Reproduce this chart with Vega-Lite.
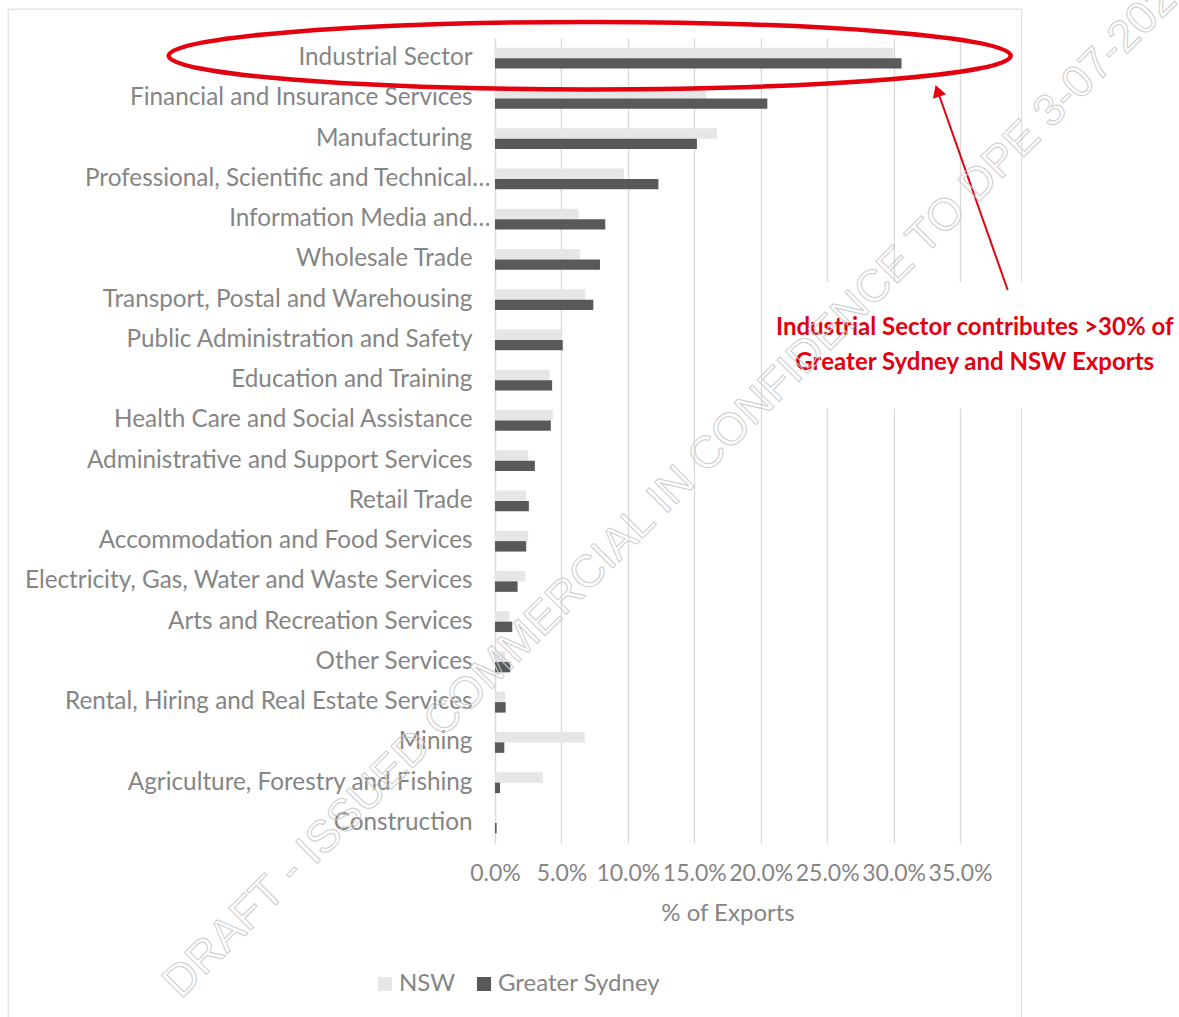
{
  "$schema": "https://vega.github.io/schema/vega-lite/v6.json",
  "width": 465,
  "height": 805,
  "autosize": {"type": "none"},
  "padding": {"left": 495, "top": 38, "right": 219, "bottom": 174},
  "background": "white",
  "config": {
    "view": {"stroke": null},
    "font": "Lato",
    "axisX": {
      "format": ".1%", "labelFont": "Lato", "labelFontSize": 23, "labelColor": "#858585",
      "labelPadding": 19, "labelOverlap": false, "labelFlush": false,
      "ticks": false, "domain": false, "grid": true, "gridColor": "#d9d9d9", "gridWidth": 1.3,
      "titleFont": "Lato", "titleFontSize": 24, "titleFontWeight": "normal",
      "titleColor": "#858585", "titlePadding": 16
    }
  },
  "resolve": {"scale": {"y": "independent"}},
  "layer": [
    {
      "data": {"values": [
        {"sector": "Industrial Sector", "region": "NSW", "value": 0.300},
        {"sector": "Industrial Sector", "region": "Greater Sydney", "value": 0.306},
        {"sector": "Financial and Insurance Services", "region": "NSW", "value": 0.159},
        {"sector": "Financial and Insurance Services", "region": "Greater Sydney", "value": 0.205},
        {"sector": "Manufacturing", "region": "NSW", "value": 0.167},
        {"sector": "Manufacturing", "region": "Greater Sydney", "value": 0.152},
        {"sector": "Professional, Scientific and Technical Services", "region": "NSW", "value": 0.097},
        {"sector": "Professional, Scientific and Technical Services", "region": "Greater Sydney", "value": 0.123},
        {"sector": "Information Media and Telecommunications", "region": "NSW", "value": 0.063},
        {"sector": "Information Media and Telecommunications", "region": "Greater Sydney", "value": 0.083},
        {"sector": "Wholesale Trade", "region": "NSW", "value": 0.064},
        {"sector": "Wholesale Trade", "region": "Greater Sydney", "value": 0.079},
        {"sector": "Transport, Postal and Warehousing", "region": "NSW", "value": 0.068},
        {"sector": "Transport, Postal and Warehousing", "region": "Greater Sydney", "value": 0.074},
        {"sector": "Public Administration and Safety", "region": "NSW", "value": 0.050},
        {"sector": "Public Administration and Safety", "region": "Greater Sydney", "value": 0.051},
        {"sector": "Education and Training", "region": "NSW", "value": 0.041},
        {"sector": "Education and Training", "region": "Greater Sydney", "value": 0.043},
        {"sector": "Health Care and Social Assistance", "region": "NSW", "value": 0.0435},
        {"sector": "Health Care and Social Assistance", "region": "Greater Sydney", "value": 0.042},
        {"sector": "Administrative and Support Services", "region": "NSW", "value": 0.025},
        {"sector": "Administrative and Support Services", "region": "Greater Sydney", "value": 0.030},
        {"sector": "Retail Trade", "region": "NSW", "value": 0.0235},
        {"sector": "Retail Trade", "region": "Greater Sydney", "value": 0.0255},
        {"sector": "Accommodation and Food Services", "region": "NSW", "value": 0.025},
        {"sector": "Accommodation and Food Services", "region": "Greater Sydney", "value": 0.0235},
        {"sector": "Electricity, Gas, Water and Waste Services", "region": "NSW", "value": 0.0225},
        {"sector": "Electricity, Gas, Water and Waste Services", "region": "Greater Sydney", "value": 0.017},
        {"sector": "Arts and Recreation Services", "region": "NSW", "value": 0.0105},
        {"sector": "Arts and Recreation Services", "region": "Greater Sydney", "value": 0.013},
        {"sector": "Other Services", "region": "NSW", "value": 0.0075},
        {"sector": "Other Services", "region": "Greater Sydney", "value": 0.0115},
        {"sector": "Rental, Hiring and Real Estate Services", "region": "NSW", "value": 0.0075},
        {"sector": "Rental, Hiring and Real Estate Services", "region": "Greater Sydney", "value": 0.008},
        {"sector": "Mining", "region": "NSW", "value": 0.0675},
        {"sector": "Mining", "region": "Greater Sydney", "value": 0.007},
        {"sector": "Agriculture, Forestry and Fishing", "region": "NSW", "value": 0.036},
        {"sector": "Agriculture, Forestry and Fishing", "region": "Greater Sydney", "value": 0.0038},
        {"sector": "Construction", "region": "NSW", "value": 0.0004},
        {"sector": "Construction", "region": "Greater Sydney", "value": 0.0012}
      ]},
      "mark": {"type": "bar"},
      "encoding": {
        "y": {
          "field": "sector", "type": "nominal", "sort": null,
          "scale": {"paddingInner": 0.48, "paddingOuter": 0.24},
          "axis": {
            "title": null, "ticks": false, "domain": true, "domainColor": "#d9d9d9", "domainWidth": 1.3,
            "labelFont": "Lato", "labelFontSize": 24.3, "labelColor": "#858585",
            "labelPadding": {"condition": {"test": "datum.value == 'Professional, Scientific and Technical Services' || datum.value == 'Information Media and Telecommunications'", "value": 5}, "value": 23},
            "labelLimit": 700,
            "labelExpr": "datum.value == 'Professional, Scientific and Technical Services' ? 'Professional, Scientific and Technical…' : datum.value == 'Information Media and Telecommunications' ? 'Information Media and…' : datum.label"
          }
        },
        "yOffset": {"field": "region", "type": "nominal", "sort": ["NSW", "Greater Sydney"], "scale": {"paddingInner": 0, "paddingOuter": 0}},
        "x": {
          "field": "value", "type": "quantitative",
          "scale": {"domain": [0, 0.35], "nice": false},
          "axis": {"title": "% of Exports", "values": [0, 0.05, 0.1, 0.15, 0.2, 0.25, 0.3, 0.35], "format": ".1%", "labelOverlap": false}
        },
        "color": {
          "field": "region", "type": "nominal",
          "scale": {"domain": ["NSW", "Greater Sydney"], "range": ["#e6e6e6", "#595959"]},
          "legend": {
            "orient": "none", "legendX": -122, "legendY": 934, "direction": "horizontal",
            "title": null, "symbolType": "square", "symbolSize": 196, "symbolStrokeWidth": 0,
            "labelFont": "Lato", "labelFontSize": 24, "labelColor": "#858585", "labelLimit": 400,
            "labelOffset": 2, "columnPadding": 16, "padding": 0
          }
        }
      }
    },
    {
      "data": {"values": [{"x": -0.3664, "x2": 0.3964, "row": -1.217, "row2": 26}]},
      "mark": {"type": "rect", "fillOpacity": 0, "stroke": "#d9d9d9", "strokeWidth": 1},
      "encoding": {
        "x": {"field": "x", "type": "quantitative", "scale": {"domain": [0, 0.35], "nice": false}},
        "x2": {"field": "x2"},
        "y": {"field": "row", "type": "quantitative", "scale": {"domain": [-0.5, 19.5], "reverse": true, "nice": false, "zero": false}, "axis": null},
        "y2": {"field": "row2"}
      }
    },
    {
      "data": {"values": [{"x": 0.2102, "x2": 0.52, "row": 5.565, "row2": 8.7}]},
      "mark": {"type": "rect", "fill": "white", "strokeWidth": 0},
      "encoding": {
        "x": {"field": "x", "type": "quantitative", "scale": {"domain": [0, 0.35], "nice": false}},
        "x2": {"field": "x2"},
        "y": {"field": "row", "type": "quantitative", "scale": {"domain": [-0.5, 19.5], "reverse": true, "nice": false, "zero": false}, "axis": null},
        "y2": {"field": "row2"}
      }
    },
    {
      "data": {"values": [{"x": 0.0713, "row": -0.06}]},
      "mark": {"type": "point", "shape": "M -1 0 C -1 -0.0442 -0.5523 -0.08 0 -0.08 C 0.5523 -0.08 1 -0.0442 1 0 C 1 0.0442 0.5523 0.08 0 0.08 C -0.5523 0.08 -1 0.0442 -1 0 Z", "size": 708964, "filled": false, "stroke": "#e3000f", "strokeWidth": 4.5, "opacity": 1},
      "encoding": {
        "x": {"field": "x", "type": "quantitative", "scale": {"domain": [0, 0.35], "nice": false}},
        "y": {"field": "row", "type": "quantitative", "scale": {"domain": [-0.5, 19.5], "reverse": true, "nice": false, "zero": false}, "axis": null}
      }
    },
    {
      "data": {"values": [{"x": 0.3859, "row": 5.76, "x2": 0.3331, "row2": 0.81}]},
      "mark": {"type": "rule", "stroke": "#e3000f", "strokeWidth": 2},
      "encoding": {
        "x": {"field": "x", "type": "quantitative", "scale": {"domain": [0, 0.35], "nice": false}},
        "x2": {"field": "x2"},
        "y": {"field": "row", "type": "quantitative", "scale": {"domain": [-0.5, 19.5], "reverse": true, "nice": false, "zero": false}, "axis": null},
        "y2": {"field": "row2"}
      }
    },
    {
      "data": {"values": [{"x": 0.3331, "row": 0.81}]},
      "mark": {"type": "point", "shape": "triangle-up", "size": 196, "filled": true, "fill": "#e3000f", "strokeWidth": 0, "angle": -19.3, "opacity": 1},
      "encoding": {
        "x": {"field": "x", "type": "quantitative", "scale": {"domain": [0, 0.35], "nice": false}},
        "y": {"field": "row", "type": "quantitative", "scale": {"domain": [-0.5, 19.5], "reverse": true, "nice": false, "zero": false}, "axis": null}
      }
    },
    {
      "data": {"values": [{"x": 0.3611, "row": 6.7, "label": "Industrial Sector contributes >30% of\nGreater Sydney and NSW Exports"}]},
      "mark": {"type": "text", "font": "Lato", "fontWeight": "bold", "fontSize": 24, "fill": "#e3000f", "align": "center", "baseline": "middle", "lineBreak": "\n", "lineHeight": 35},
      "encoding": {
        "x": {"field": "x", "type": "quantitative", "scale": {"domain": [0, 0.35], "nice": false}},
        "y": {"field": "row", "type": "quantitative", "scale": {"domain": [-0.5, 19.5], "reverse": true, "nice": false, "zero": false}, "axis": null},
        "text": {"field": "label"}
      }
    },
    {
      "data": {"values": [{"x": -0.2365, "row": 23.4, "label": "DRAFT - ISSUED COMMERCIAL IN CONFIDENCE TO DPE 3-07-2023"}]},
      "mark": {"type": "text", "font": "Liberation Sans", "fontSize": 45, "angle": -45, "align": "left", "baseline": "alphabetic", "fillOpacity": 0, "stroke": "#cccccc", "strokeWidth": 1},
      "encoding": {
        "x": {"field": "x", "type": "quantitative", "scale": {"domain": [0, 0.35], "nice": false}},
        "y": {"field": "row", "type": "quantitative", "scale": {"domain": [-0.5, 19.5], "reverse": true, "nice": false, "zero": false}, "axis": null},
        "text": {"field": "label"}
      }
    }
  ]
}
